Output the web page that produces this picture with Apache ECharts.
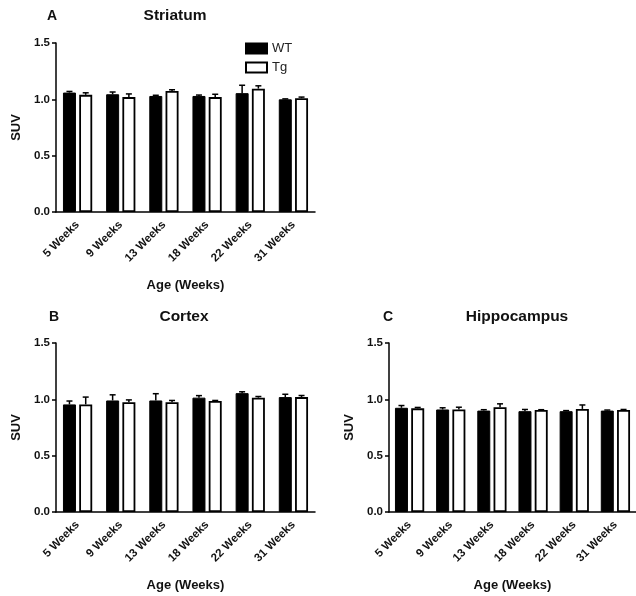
<!DOCTYPE html>
<html><head><meta charset="utf-8">
<script src="https://cdn.jsdelivr.net/npm/echarts@6/dist/echarts.min.js"></script>
<style>html,body{margin:0;padding:0;background:#fff}#c{width:636px;height:596px}</style>
</head><body><div id="c"></div>
<script>
const categories = ['5 Weeks','9 Weeks','13 Weeks','18 Weeks','22 Weeks','31 Weeks'];
const yTicks = [0.0, 0.5, 1.0, 1.5];
// Striatum
const striatumWT = [1.06, 1.045, 1.03, 1.03, 1.055, 1.0];
const striatumWTerr = [0.01, 0.02, 0.006, 0.008, 0.07, 0.004];
const striatumTg = [1.04, 1.02, 1.075, 1.02, 1.095, 1.01];
const striatumTgErr = [0.018, 0.028, 0.01, 0.025, 0.025, 0.01];
// Cortex
const cortexWT = [0.955, 0.99, 0.99, 1.015, 1.055, 1.02];
const cortexWTerr = [0.03, 0.05, 0.06, 0.018, 0.012, 0.025];
const cortexTg = [0.955, 0.975, 0.975, 0.985, 1.015, 1.02];
const cortexTgErr = [0.065, 0.02, 0.015, 0.005, 0.01, 0.014];
// Hippocampus
const hippoWT = [0.925, 0.91, 0.9, 0.895, 0.895, 0.9];
const hippoWTerr = [0.02, 0.015, 0.008, 0.015, 0.005, 0.005];
const hippoTg = [0.92, 0.91, 0.93, 0.905, 0.915, 0.905];
const hippoTgErr = [0.008, 0.02, 0.03, 0.003, 0.035, 0.005];

const FONT = 'Liberation Sans';
const BW = 13, GAPPCT = 0.25;
const OFF = (BW + BW * GAPPCT) / 2;

const grids = [
  {left: 56, top: 43, width: 259, height: 169},
  {left: 56, top: 343, width: 259, height: 169},
  {left: 389, top: 343, width: 256, height: 169}
];
const panels = [
  {wt: striatumWT, wte: striatumWTerr, tg: striatumTg, tge: striatumTgErr},
  {wt: cortexWT, wte: cortexWTerr, tg: cortexTg, tge: cortexTgErr},
  {wt: hippoWT, wte: hippoWTerr, tg: hippoTg, tge: hippoTgErr}
];

const xAxes = grids.map((g, i) => ({
  type: 'category', gridIndex: i, data: categories,
  axisLine: {lineStyle: {color: '#000', width: 1.5}},
  axisTick: {alignWithLabel: true, length: 4, lineStyle: {color: '#000', width: 1.5}},
  axisLabel: {rotate: 45, margin: 11, color: '#111', fontFamily: FONT, fontWeight: 'bold', fontSize: 11.5},
  name: 'Age (Weeks)', nameLocation: 'middle', nameGap: 67,
  nameTextStyle: {color: '#111', fontFamily: FONT, fontWeight: 'bold', fontSize: 13}
}));
const yAxes = grids.map((g, i) => ({
  type: 'value', gridIndex: i, min: yTicks[0], max: yTicks[yTicks.length - 1], interval: 0.5,
  splitLine: {show: false},
  axisLine: {show: true, lineStyle: {color: '#000', width: 1.5}},
  axisTick: {show: true, length: 4, lineStyle: {color: '#000', width: 1.5}},
  axisLabel: {formatter: v => v.toFixed(1), margin: 6, color: '#111', fontFamily: FONT, fontWeight: 'bold', fontSize: 11.5},
  name: 'SUV', nameLocation: 'middle', nameGap: 33,
  nameTextStyle: {color: '#111', fontFamily: FONT, fontWeight: 'bold', fontSize: 13}
}));

function errSeries(vals, errs, idx, sign) {
  return {
    type: 'custom', xAxisIndex: idx, yAxisIndex: idx, silent: true, z: 1,
    data: vals.map((v, k) => [k, v, errs[k]]),
    renderItem: function (params, api) {
      const c = api.coord([api.value(0), api.value(1)]);
      const t = api.coord([api.value(0), api.value(1) + api.value(2)]);
      const x = c[0] + sign * OFF;
      const st = {stroke: '#000', lineWidth: 1.5};
      return {type: 'group', children: [
        {type: 'line', shape: {x1: x, y1: c[1], x2: x, y2: t[1]}, style: st},
        {type: 'line', shape: {x1: x - 3, y1: t[1], x2: x + 3, y2: t[1]}, style: st}
      ]};
    }
  };
}

const series = [];
panels.forEach((p, i) => {
  series.push({name: 'WT', type: 'bar', xAxisIndex: i, yAxisIndex: i, data: p.wt,
    barWidth: BW, barGap: (GAPPCT * 100) + '%', z: 2,
    itemStyle: {color: '#000', borderColor: '#000', borderWidth: 1}});
  series.push({name: 'Tg', type: 'bar', xAxisIndex: i, yAxisIndex: i, data: p.tg,
    barWidth: BW, barGap: (GAPPCT * 100) + '%', z: 2,
    itemStyle: {color: '#fff', borderColor: '#000', borderWidth: 1.8}});
  series.push(errSeries(p.wt, p.wte, i, -1));
  series.push(errSeries(p.tg, p.tge, i, 1));
});

const option = {
  animation: false,
  backgroundColor: '#fff',
  grid: grids,
  xAxis: xAxes,
  yAxis: yAxes,
  legend: {
    data: [{name: 'WT', icon: 'rect'}, {name: 'Tg', icon: 'rect'}], orient: 'vertical', left: 245, top: 42, padding: 0,
    itemWidth: 21, itemHeight: 10, itemGap: 6,
    textStyle: {color: '#222', fontFamily: FONT, fontSize: 13}, selectedMode: false
  },
  graphic: [
    {type: 'text', x: 47, y: 16, style: {text: 'A', font: 'bold 14px ' + FONT, fill: '#111', align: 'left', verticalAlign: 'middle'}},
    {type: 'text', x: 175, y: 16, style: {text: 'Striatum', font: 'bold 15.5px ' + FONT, fill: '#111', align: 'center', verticalAlign: 'middle'}},
    {type: 'text', x: 49, y: 317, style: {text: 'B', font: 'bold 14px ' + FONT, fill: '#111', align: 'left', verticalAlign: 'middle'}},
    {type: 'text', x: 184, y: 317, style: {text: 'Cortex', font: 'bold 15.5px ' + FONT, fill: '#111', align: 'center', verticalAlign: 'middle'}},
    {type: 'text', x: 383, y: 317, style: {text: 'C', font: 'bold 14px ' + FONT, fill: '#111', align: 'left', verticalAlign: 'middle'}},
    {type: 'text', x: 517, y: 317, style: {text: 'Hippocampus', font: 'bold 15.5px ' + FONT, fill: '#111', align: 'center', verticalAlign: 'middle'}}
  ],
  series: series
};
const chart = echarts.init(document.getElementById('c'), null, {renderer: 'canvas'});
chart.setOption(option);
</script></body></html>
